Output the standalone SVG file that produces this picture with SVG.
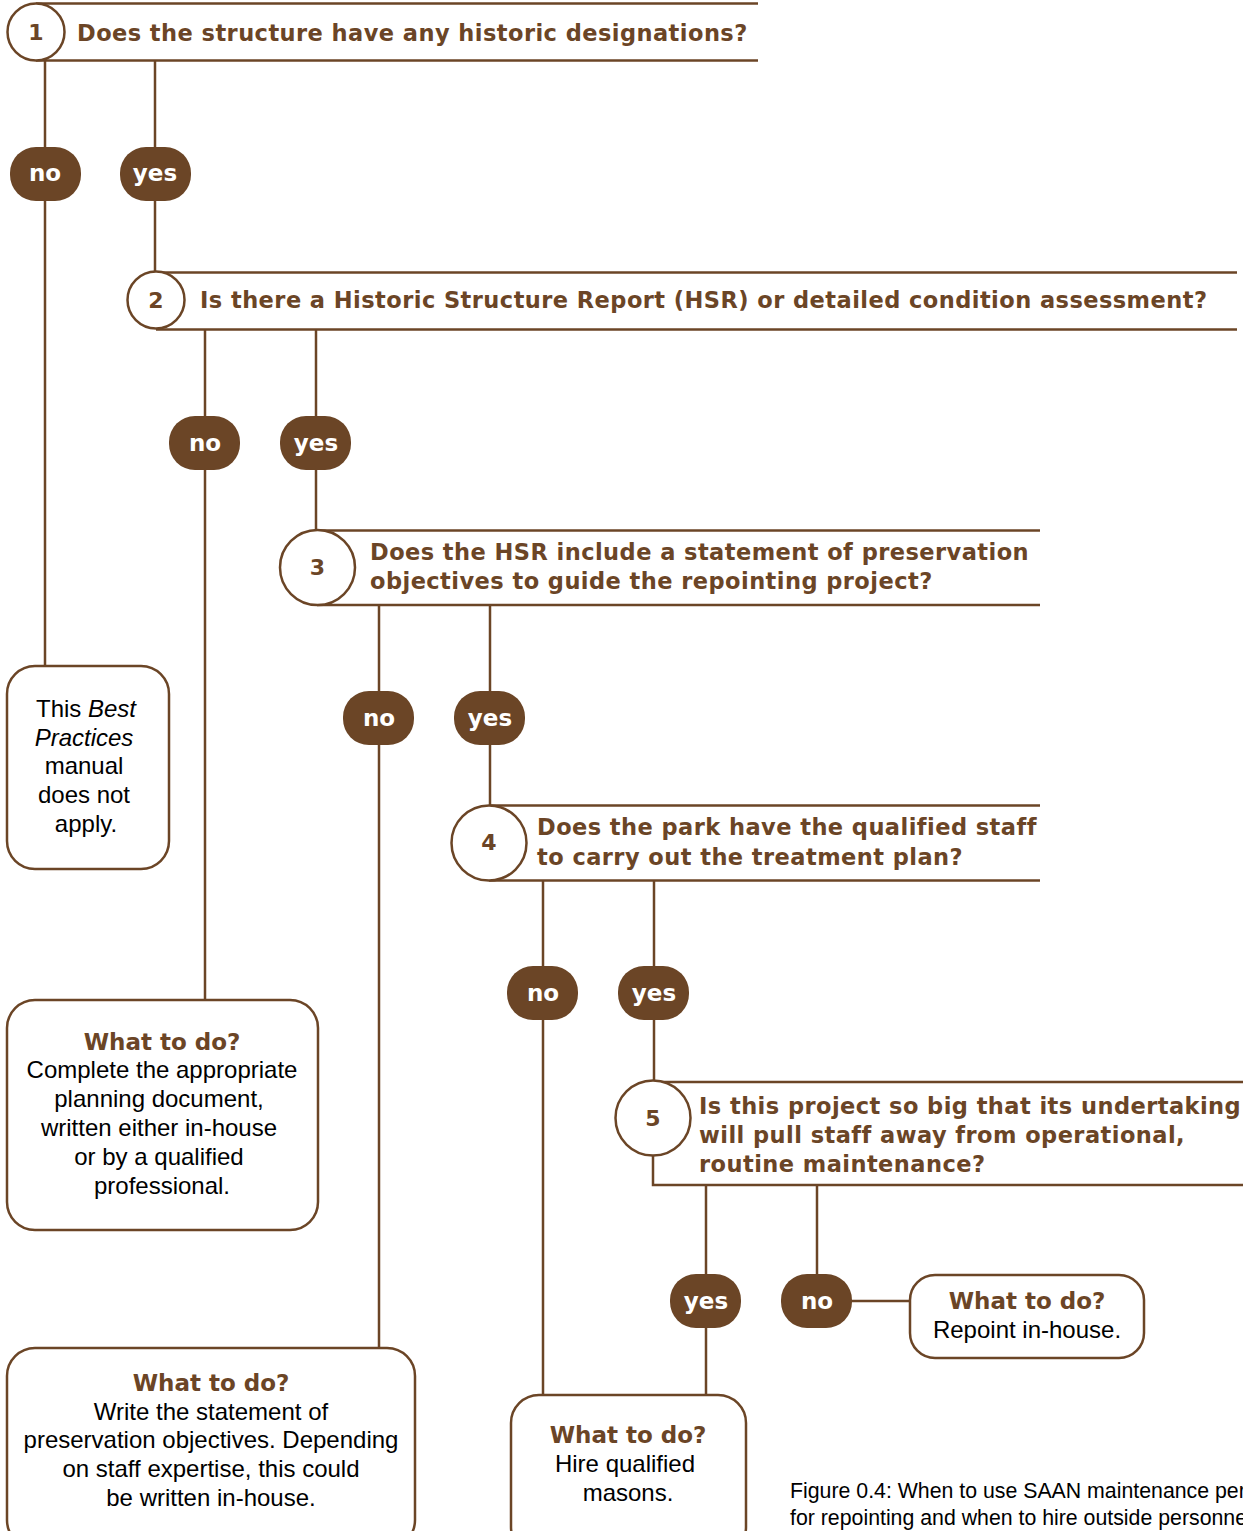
<svg xmlns="http://www.w3.org/2000/svg" width="1243" height="1531" viewBox="0 0 1243 1531">
<style>
.ln{stroke:#6b4526;stroke-width:2.5;fill:none}
.circ{stroke:#6b4526;stroke-width:2.5;fill:#fff}
.box{stroke:#6b4526;stroke-width:2.5;fill:#fff}
.pill{fill:#6b4526}
.q{font-family:"DejaVu Sans",sans-serif;font-weight:bold;font-size:22.5px;letter-spacing:0.45px;fill:#6b4526}
.num{font-family:"DejaVu Sans",sans-serif;font-weight:bold;font-size:22px;fill:#6b4526;text-anchor:middle}
.pt{font-family:"DejaVu Sans",sans-serif;font-weight:bold;font-size:23px;fill:#fff;text-anchor:middle}
.wh{font-family:"DejaVu Sans",sans-serif;font-weight:bold;font-size:23px;fill:#6b4526;text-anchor:middle}
.bd{font-family:"Liberation Sans",Arial,sans-serif;font-size:24px;fill:#000;text-anchor:middle}
.cap{font-family:"Liberation Sans",Arial,sans-serif;font-size:21.3px;fill:#000}
</style>
<g id="connectors">
<line class="ln" x1="45" y1="60" x2="45" y2="666"/>
<line class="ln" x1="155" y1="60" x2="155" y2="272"/>
<line class="ln" x1="205" y1="330" x2="205" y2="1000"/>
<line class="ln" x1="316" y1="330" x2="316" y2="530"/>
<line class="ln" x1="379" y1="605" x2="379" y2="1348"/>
<line class="ln" x1="490" y1="605" x2="490" y2="805"/>
<line class="ln" x1="543" y1="880" x2="543" y2="1395"/>
<line class="ln" x1="654" y1="880" x2="654" y2="1082"/>
<line class="ln" x1="706" y1="1185" x2="706" y2="1395"/>
<line class="ln" x1="817" y1="1185" x2="817" y2="1301"/>
<line class="ln" x1="817" y1="1301" x2="910" y2="1301"/>
</g>
<g id="q1">
<line class="ln" x1="36" y1="3.5" x2="758" y2="3.5"/>
<line class="ln" x1="36" y1="60.5" x2="758" y2="60.5"/>
<circle class="circ" cx="36" cy="32" r="28.5"/>
<text class="num" x="36" y="40">1</text>
<text class="q" x="77" y="41">Does the structure have any historic designations?</text>
</g>
<g id="q1-no"><rect class="pill" x="10" y="147" width="71" height="54" rx="26"/><text class="pt" x="45" y="181">no</text></g>
<g id="q1-yes"><rect class="pill" x="120" y="147" width="71" height="54" rx="26"/><text class="pt" x="155" y="181">yes</text></g>
<g id="q2">
<line class="ln" x1="156" y1="272.5" x2="1237" y2="272.5"/>
<line class="ln" x1="156" y1="329.5" x2="1237" y2="329.5"/>
<circle class="circ" cx="156" cy="300" r="28.5"/>
<text class="num" x="156" y="308">2</text>
<text class="q" x="200" y="308">Is there a Historic Structure Report (HSR) or detailed condition assessment?</text>
</g>
<g id="q2-no"><rect class="pill" x="169" y="416" width="71" height="54" rx="26"/><text class="pt" x="205" y="451">no</text></g>
<g id="q2-yes"><rect class="pill" x="280" y="416" width="71" height="54" rx="26"/><text class="pt" x="316" y="451">yes</text></g>
<g id="q3">
<line class="ln" x1="317" y1="530.5" x2="1040" y2="530.5"/>
<line class="ln" x1="317" y1="605" x2="1040" y2="605"/>
<circle class="circ" cx="317.5" cy="567.5" r="37.5"/>
<text class="num" x="317.5" y="575">3</text>
<text class="q" x="370" y="560">Does the HSR include a statement of preservation</text>
<text class="q" x="370" y="589">objectives to guide the repointing project?</text>
</g>
<g id="q3-no"><rect class="pill" x="343" y="691" width="71" height="54" rx="26"/><text class="pt" x="379" y="726">no</text></g>
<g id="q3-yes"><rect class="pill" x="454" y="691" width="71" height="54" rx="26"/><text class="pt" x="490" y="726">yes</text></g>
<g id="q4">
<line class="ln" x1="489" y1="805.5" x2="1040" y2="805.5"/>
<line class="ln" x1="489" y1="880.5" x2="1040" y2="880.5"/>
<circle class="circ" cx="489" cy="843" r="37.5"/>
<text class="num" x="489" y="850">4</text>
<text class="q" x="537" y="835">Does the park have the qualified staff</text>
<text class="q" x="537" y="865">to carry out the treatment plan?</text>
</g>
<g id="q4-no"><rect class="pill" x="507" y="966" width="71" height="54" rx="26"/><text class="pt" x="543" y="1001">no</text></g>
<g id="q4-yes"><rect class="pill" x="618" y="966" width="71" height="54" rx="26"/><text class="pt" x="654" y="1001">yes</text></g>
<g id="q5">
<line class="ln" x1="653" y1="1082" x2="1243" y2="1082"/>
<polyline class="ln" points="653,1150 653,1185 1243,1185"/>
<circle class="circ" cx="653" cy="1118" r="37.5"/>
<text class="num" x="653" y="1126">5</text>
<text class="q" x="699" y="1114">Is this project so big that its undertaking</text>
<text class="q" x="699" y="1143">will pull staff away from operational,</text>
<text class="q" x="699" y="1172">routine maintenance?</text>
</g>
<g id="q5-yes"><rect class="pill" x="670" y="1274" width="71" height="54" rx="26"/><text class="pt" x="706" y="1309">yes</text></g>
<g id="q5-no"><rect class="pill" x="781" y="1274" width="71" height="54" rx="26"/><text class="pt" x="817" y="1309">no</text></g>
<g id="box-notapply">
<rect class="box" x="7" y="666" width="162" height="203" rx="28"/>
<text class="bd" x="86" y="717">This <tspan font-style="italic">Best</tspan></text>
<text class="bd" x="84" y="746" font-style="italic">Practices</text>
<text class="bd" x="84" y="774">manual</text>
<text class="bd" x="84" y="803">does not</text>
<text class="bd" x="86" y="832">apply.</text>
</g>
<g id="box-complete">
<rect class="box" x="7" y="1000" width="311" height="230" rx="28"/>
<text class="wh" x="162" y="1050">What to do?</text>
<text class="bd" x="162" y="1078">Complete the appropriate</text>
<text class="bd" x="159" y="1107">planning document,</text>
<text class="bd" x="159" y="1136">written either in-house</text>
<text class="bd" x="159" y="1165">or by a qualified</text>
<text class="bd" x="162" y="1194">professional.</text>
</g>
<g id="box-write">
<rect class="box" x="7" y="1348" width="408" height="200" rx="28"/>
<text class="wh" x="211" y="1391">What to do?</text>
<text class="bd" x="211" y="1420">Write the statement of</text>
<text class="bd" x="211" y="1448">preservation objectives. Depending</text>
<text class="bd" x="211" y="1477">on staff expertise, this could</text>
<text class="bd" x="211" y="1506">be written in-house.</text>
</g>
<g id="box-hire">
<rect class="box" x="511" y="1395" width="235" height="160" rx="28"/>
<text class="wh" x="628" y="1443">What to do?</text>
<text class="bd" x="625" y="1472">Hire qualified</text>
<text class="bd" x="628" y="1501">masons.</text>
</g>
<g id="box-repoint">
<rect class="box" x="910" y="1275" width="234" height="83" rx="25"/>
<text class="wh" x="1027" y="1309">What to do?</text>
<text class="bd" x="1027" y="1338">Repoint in-house.</text>
</g>
<g id="caption">
<text class="cap" x="790" y="1498">Figure 0.4: When to use SAAN maintenance personnel</text>
<text class="cap" x="790" y="1525">for repointing and when to hire outside personnel.</text>
</g>
</svg>
